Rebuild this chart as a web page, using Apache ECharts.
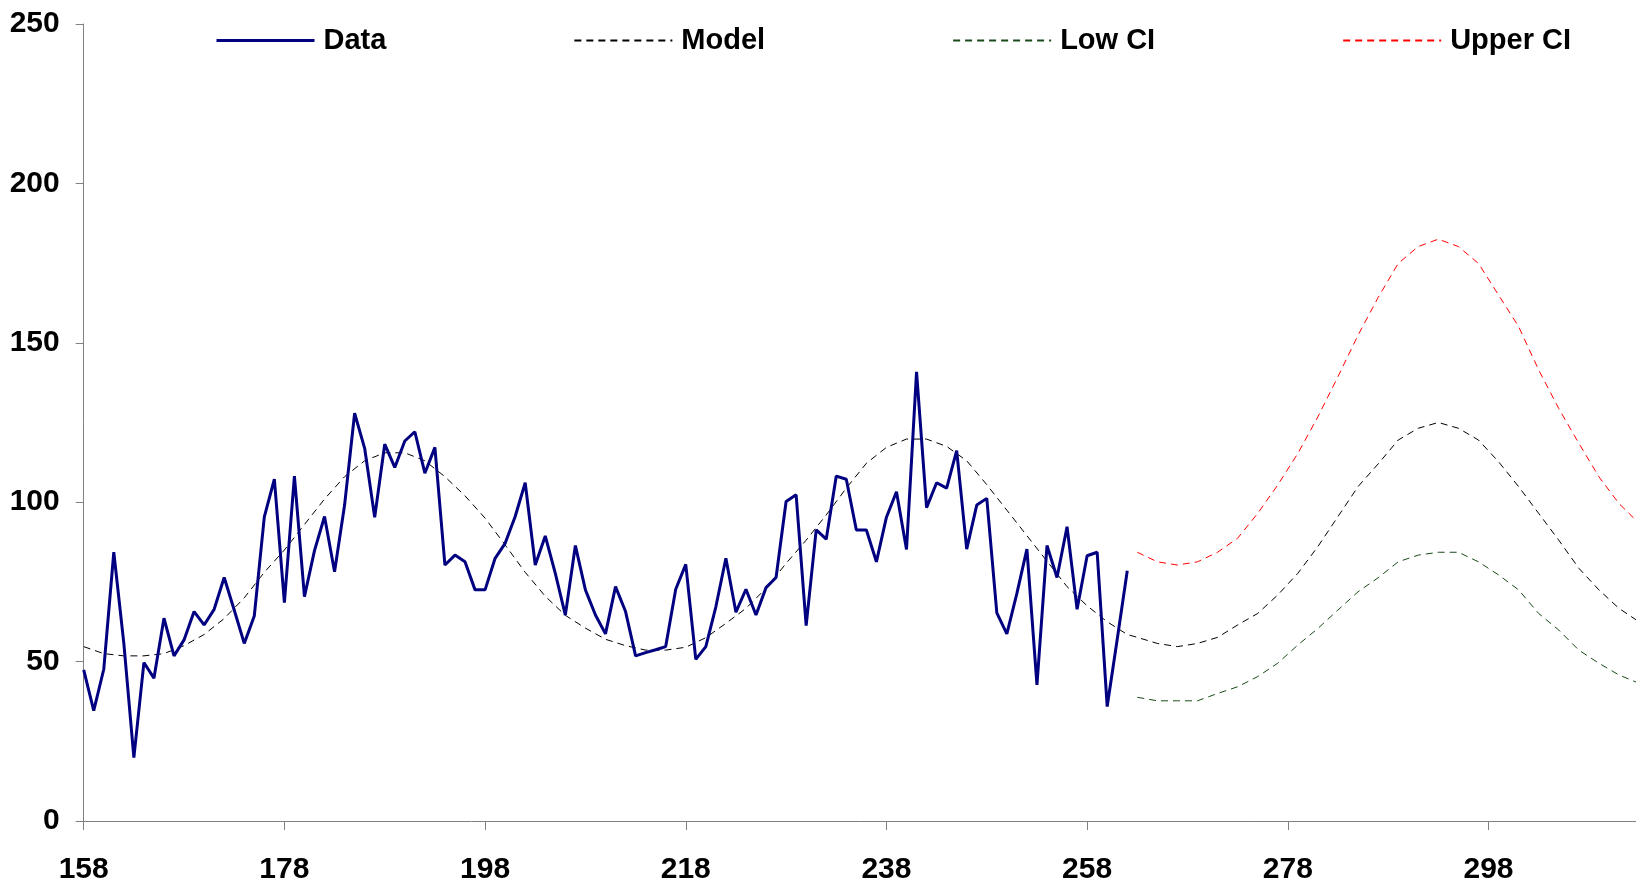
<!DOCTYPE html>
<html>
<head>
<meta charset="utf-8">
<script src="https://cdn.jsdelivr.net/npm/echarts@6/dist/echarts.min.js"></script>
<style>
html,body{margin:0;padding:0;background:#fff;}
#chart{width:1636px;height:888px;}
</style>
</head>
<body>
<div id="chart"></div>
<script>
// Observed data: day 158 .. 262 (one value per day)
const dataStartDay = 158;
const dataValues = [
  47.4, 34.6, 47.6, 84.3, 55.7, 19.9, 49.7, 44.8, 63.6, 51.8,
  56.8, 65.7, 61.5, 66.4, 76.4, 66.2, 55.7, 64.3, 95.4, 107.2,
  68.5, 108.2, 70.4, 84.8, 95.5, 78.2, 99.1, 127.9, 116.9, 95.3,
  118.2, 110.9, 119.2, 122.1, 109.1, 117.2, 80.3, 83.4, 81.3, 72.5,
  72.5, 82.4, 87.1, 95.5, 106.1, 80.3, 89.4, 77.7, 64.6, 86.4,
  72.5, 64.6, 58.7, 73.5, 65.7, 51.8, 52.8, 53.7, 54.7, 72.7,
  80.5, 50.7, 54.7, 67.2, 82.4, 65.5, 72.7, 64.6, 73.2, 76.4,
  100.2, 102.3, 61.3, 91.3, 88.4, 108.2, 107.2, 91.3, 91.3, 81.3,
  95.3, 103.3, 85.2, 140.9, 98.3, 106.1, 104.4, 116.2, 85.3, 99.1,
  101.2, 65.3, 58.7, 71.4, 85.3, 42.7, 86.4, 76.4, 92.3, 66.4,
  83.2, 84.3, 35.9, 57.0, 78.5
];

// Model curve
const modelDays = [158,160,162,164,166,168,170,172,174,176,178,180,182,184,186,188,190,192,194,196,198,200,202,204,206,208,210,212,214,216,218,220,222,224,226,228,230,232,234,236,238,240,242,244,246,248,250,252,254,256,258,260,262,
  263,265,267,269,271,273,275,277,279,281,283,285,287,289,291,293,295,297,299,301,303,305,307,309,311,313];
const modelValues = [54.7,52.5,51.8,51.8,52.5,55.0,58.5,63.5,70.0,78.0,85.0,93.0,101.0,108.0,113.0,115.5,115.5,113.0,108.0,102.0,95.0,86.6,78.0,70.5,64.5,60.5,57.0,55.0,53.6,53.6,54.5,57.5,62.0,66.7,73.0,80.8,88.1,96.0,104.4,112.2,117.2,119.8,119.8,117.5,113.0,105.5,97.5,89.5,81.5,73.5,67.5,62.5,58.5,
  57.6,55.7,54.7,55.7,57.6,61.5,65.1,70.9,77.7,86.1,95.5,104.9,112.0,119.5,123.2,125.0,123.2,119.5,112.7,104.9,96.5,88.1,79.3,72.5,66.7,62.5];

// Confidence interval (forecast region)
const ciDays = [263,265,267,269,271,273,275,277,279,281,283,285,287,289,291,293,295,297,299,301,303,305,307,309,311,313];
const lowCIValues = [38.8,37.7,37.7,37.7,40.0,42.1,45.3,49.5,55.2,60.4,66.2,71.9,76.3,81.3,83.4,84.3,84.3,81.3,77.2,72.5,65.1,59.9,53.6,49.5,45.8,43.2];
const upperCIValues = [84.3,81.3,80.3,81.3,84.3,88.7,96.5,105.4,115.3,126.8,139.4,152.4,164.2,174.9,180.2,182.5,180.2,174.9,165.0,155.1,141.5,129.4,118.5,108.0,99.6,93.4];

const xTickStart = 158, xTickStep = 20, yMax = 250, yStep = 50;

const pair = (xs, ys) => xs.map((x, i) => [x, ys[i]]);
const dataPairs = dataValues.map((v, i) => [dataStartDay + i, v]);

const FONT = "'Liberation Sans', Arial, sans-serif";
const DASH = [7, 5];

const chart = echarts.init(document.getElementById('chart'), null, {renderer: 'canvas'});
chart.setOption({
  animation: false,
  backgroundColor: '#ffffff',
  grid: {left: 83.7, right: 0, top: 24, bottom: 67, containLabel: false, outerBoundsMode: 'none'},
  legend: {
    left: 210, top: 21, width: 1420,
    itemWidth: 98, itemHeight: 14, itemGap: 187,
    itemStyle: {opacity: 0},
    textStyle: {fontFamily: FONT, fontWeight: 'bold', fontSize: 29, color: '#000', padding: [0, 0, 0, 4]},
    data: [
      {name: 'Data', lineStyle: {width: 3}},
      {name: 'Model'},
      {name: 'Low CI'},
      {name: 'Upper CI'}
    ]
  },
  xAxis: {
    type: 'value', min: xTickStart, max: 312.7, interval: xTickStep,
    axisLine: {show: true, lineStyle: {color: '#808080', width: 1}},
    axisTick: {show: true, length: 9, inside: false, lineStyle: {color: '#808080'}},
    splitLine: {show: false},
    axisLabel: {fontFamily: FONT, fontWeight: 'bold', fontSize: 30, color: '#000', margin: 34, showMaxLabel: false}
  },
  yAxis: {
    type: 'value', min: 0, max: yMax, interval: yStep,
    axisLine: {show: true, lineStyle: {color: '#808080', width: 1}},
    axisTick: {show: true, length: 8, lineStyle: {color: '#808080'}},
    splitLine: {show: false},
    axisLabel: {fontFamily: FONT, fontWeight: 'bold', fontSize: 30, color: '#000', margin: 24}
  },
  series: [
    {name: 'Data', type: 'line', data: dataPairs, symbol: 'none',
     lineStyle: {color: '#000080', width: 3}, itemStyle: {color: '#000080'}, z: 5},
    {name: 'Model', type: 'line', data: pair(modelDays, modelValues), symbol: 'none',
     lineStyle: {color: '#000000', width: 1, type: DASH}, itemStyle: {color: '#000000'}, z: 4},
    {name: 'Low CI', type: 'line', data: pair(ciDays, lowCIValues), symbol: 'none',
     lineStyle: {color: '#1a4a1a', width: 1, type: DASH}, itemStyle: {color: '#1a4a1a'}, z: 3},
    {name: 'Upper CI', type: 'line', data: pair(ciDays, upperCIValues), symbol: 'none',
     lineStyle: {color: '#ff0000', width: 1, type: DASH}, itemStyle: {color: '#ff0000'}, z: 3}
  ]
});
</script>
</body>
</html>
